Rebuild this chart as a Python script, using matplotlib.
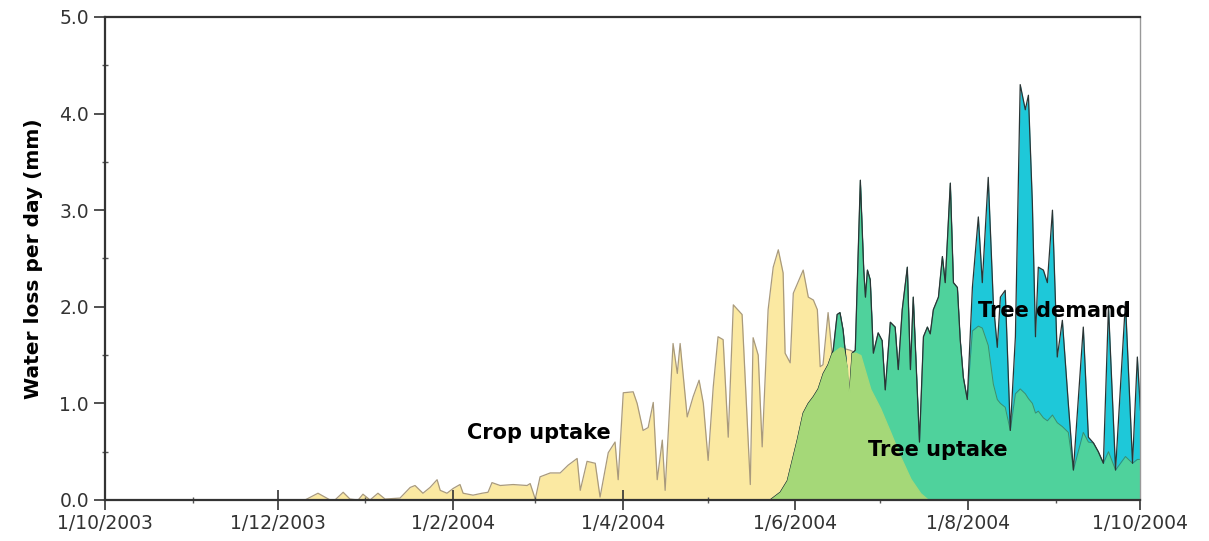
import datetime
import numpy as np
import matplotlib
matplotlib.use("Agg")
import matplotlib.pyplot as plt
import matplotlib.dates as mdates
from matplotlib.ticker import MultipleLocator, FuncFormatter

# days after 1/10/2003 and water loss (mm/day)
crop_day = [0, 70.7, 75.3, 79.6, 81.3, 84.2, 86.6, 89.5, 91.2, 93.7, 96.5, 99, 104.3,
            107.9, 109.6, 112.4, 114.9, 117.4, 118.5, 120.9, 123.1, 125.5, 126.6, 130.1,
            133.3, 135.4, 136.8, 139.7, 144.3, 149.2, 150.3, 152.1, 153.8, 157.4, 160.9,
            163.7, 166.9, 168, 170.4, 173.3, 175, 177.9, 180.3, 181.4, 183.2, 186.7, 188.1,
            190.2, 192, 193.8, 195.2, 197, 198, 200.8, 202.3, 203.3, 205.8, 207.9, 210,
            211.5, 213.2, 215, 216.7, 218.5, 220.3, 222.1, 225.2, 228.1, 229.1, 230.9,
            232.3, 234.4, 236.2, 238, 239.7, 240.4, 242.2, 243.3, 246.8, 248.6, 250.4,
            251.8, 252.8, 253.8, 255.6, 257, 259.8, 263.4, 267, 270.5, 274, 277.6, 281.1,
            284.7, 288.2, 291, 366]
crop_mm = [0, 0, 0.07, 0, 0, 0.08, 0.01, 0, 0.06, 0, 0.07, 0.01, 0.02,
           0.13, 0.15, 0.07, 0.13, 0.21, 0.1, 0.07, 0.12, 0.16, 0.07, 0.05,
           0.07, 0.08, 0.18, 0.15, 0.16, 0.15, 0.17, 0.01, 0.24, 0.28, 0.28,
           0.36, 0.43, 0.1, 0.4, 0.38, 0.03, 0.49, 0.6, 0.21, 1.11, 1.12, 1.0,
           0.72, 0.75, 1.01, 0.21, 0.62, 0.1, 1.62, 1.31, 1.62, 0.86, 1.07, 1.24,
           1.0, 0.41, 1.17, 1.69, 1.66, 0.65, 2.02, 1.92, 0.16, 1.68, 1.5,
           0.55, 1.97, 2.41, 2.59, 2.35, 1.52, 1.42, 2.14, 2.38, 2.1, 2.07,
           1.97, 1.38, 1.4, 1.94, 1.52, 1.58, 1.55, 1.5, 1.15, 0.95, 0.7, 0.45,
           0.22, 0.07, 0, 0]

tree_day = [0, 235.1, 238.7, 241.2, 244.7, 246.8, 248.6, 250.4, 252.1, 253.9, 255.6,
            257.4, 258.8, 259.8, 260.9, 262.3, 263, 264.1, 265.2, 267, 268.2, 268.8,
            269.5, 270.5, 271.6, 273.3, 274.7, 275.8, 277.6, 279.3, 280.4, 281.8, 283.6,
            284.7, 285.7, 287.9, 289.3, 290.7, 291.7, 292.8, 294.6, 296, 297, 298.8,
            299.9, 301.3, 302.3, 303.4, 304.8, 306.6, 308.7, 310.1, 312.2, 314, 315.4,
            316.5, 318.2, 320, 321.8, 323.5, 325.3, 326.4, 327.8, 328.9, 329.9, 331.7,
            333.1, 334.9, 336.6, 338.4, 340.5, 342.3, 345.8, 347.6, 349.4, 351.1, 352.9,
            354.7, 357.2, 360.7, 363.2, 364.9, 366]
tree_demand = [0, 0, 0.08, 0.2, 0.62, 0.9, 1.0, 1.07, 1.15, 1.31, 1.4,
               1.55, 1.92, 1.94, 1.76, 1.35, 1.04, 1.52, 1.55, 3.31, 2.38, 2.1,
               2.38, 2.28, 1.52, 1.73, 1.65, 1.14, 1.84, 1.79, 1.35, 1.97, 2.41,
               1.35, 2.1, 0.6, 1.69, 1.79, 1.72, 1.97, 2.1, 2.52, 2.25, 3.28,
               2.25, 2.2, 1.66, 1.27, 1.04, 2.2, 2.93, 2.25, 3.34, 2.04, 1.58,
               2.1, 2.17, 0.72, 1.69, 4.3, 4.04, 4.19, 3.07, 1.69, 2.41, 2.38,
               2.25, 3.0, 1.48, 1.86, 1.0, 0.31, 1.79, 0.65, 0.59, 0.5, 0.38,
               2.0, 0.31, 2.05, 0.38, 1.48, 0.93]
tree_uptake = [0, 0, 0.08, 0.2, 0.62, 0.9, 1.0, 1.07, 1.15, 1.31, 1.4,
               1.55, 1.92, 1.94, 1.76, 1.35, 1.04, 1.52, 1.55, 3.31, 2.38, 2.1,
               2.38, 2.28, 1.52, 1.73, 1.65, 1.14, 1.84, 1.79, 1.35, 1.97, 2.41,
               1.35, 2.1, 0.6, 1.69, 1.79, 1.72, 1.97, 2.1, 2.52, 2.25, 3.28,
               2.25, 2.2, 1.66, 1.27, 1.04, 1.75, 1.8, 1.78, 1.6, 1.2, 1.04,
               1.0, 0.96, 0.72, 1.1, 1.15, 1.1, 1.05, 1.0, 0.9, 0.92, 0.85,
               0.82, 0.88, 0.8, 0.76, 0.7, 0.31, 0.7, 0.6, 0.59, 0.5, 0.38,
               0.5, 0.31, 0.45, 0.38, 0.42, 0.42]

start = mdates.date2num(datetime.date(2003, 10, 1))
crop_x = start + np.array(crop_day)
tree_x = start + np.array(tree_day)

# where crop and tree uptake overlap
both_x = np.union1d(crop_x, tree_x)
overlap = np.minimum(np.interp(both_x, crop_x, crop_mm), np.interp(both_x, tree_x, tree_uptake))

plt.rcParams['font.family'] = 'DejaVu Sans'
fig = plt.figure(figsize=(12.09, 5.41), dpi=100)
ax = fig.add_axes([0.0868, 0.0758, 0.8565, 0.8928])

ax.fill_between(crop_x, 0, crop_mm, color='#fbe9a2', lw=0, zorder=1)
ax.plot(crop_x, crop_mm, color='#a99a7c', lw=0.9, zorder=1.5)
ax.fill_between(tree_x, 0, tree_demand, color='#1ec8d9', lw=0, zorder=2)
ax.fill_between(tree_x, 0, tree_uptake, color='#4fd29c', lw=0, zorder=3)
ax.plot(tree_x, tree_uptake, color='#3a8f70', lw=0.7, zorder=3.5)
ax.plot(tree_x, tree_demand, color='#2a3535', lw=0.9, zorder=4)
ax.fill_between(both_x, 0, overlap, facecolor='#a5d878', edgecolor='#a5d878', lw=1.0, zorder=5)

ax.text(start + 128, 0.69, 'Crop uptake', fontsize=15, fontweight='bold', va='center', zorder=6)
ax.text(start + 269.8, 0.52, 'Tree uptake', fontsize=15, fontweight='bold', va='center', zorder=6)
ax.text(start + 308.7, 1.96, 'Tree demand', fontsize=15, fontweight='bold', va='center', zorder=6)

ax.set_xlim(start, start + 366)
ax.set_ylim(0, 5.0)
ax.set_ylabel('Water loss per day (mm)', fontsize=14.5, fontweight='bold', labelpad=12)

ax.xaxis.set_major_locator(mdates.MonthLocator(bymonth=[2, 4, 6, 8, 10, 12]))
ax.xaxis.set_minor_locator(mdates.MonthLocator(bymonth=[1, 3, 5, 7, 9, 11]))
ax.xaxis.set_major_formatter(FuncFormatter(
    lambda v, pos: "{0.day}/{0.month}/{0.year}".format(mdates.num2date(v))))
ax.yaxis.set_major_locator(MultipleLocator(1.0))
ax.yaxis.set_minor_locator(MultipleLocator(0.5))
ax.yaxis.set_major_formatter(FuncFormatter(lambda v, pos: f"{v:.1f}"))

ax.tick_params(axis='both', which='major', labelsize=13.5, labelcolor='#333333',
               color='#333333', length=8, width=1.2)
ax.tick_params(axis='x', which='major', direction='inout', length=14, pad=3)
ax.tick_params(axis='both', which='minor', color='#555555', length=4, width=1, direction='inout')

for side in ['left', 'bottom', 'top']:
    ax.spines[side].set_color('#333333')
    ax.spines[side].set_linewidth(1.6)
ax.spines['right'].set_color('#999999')
ax.spines['right'].set_linewidth(1.0)
for sp in ax.spines.values():
    sp.set_zorder(7)

fig.savefig('out.png', dpi=100)
